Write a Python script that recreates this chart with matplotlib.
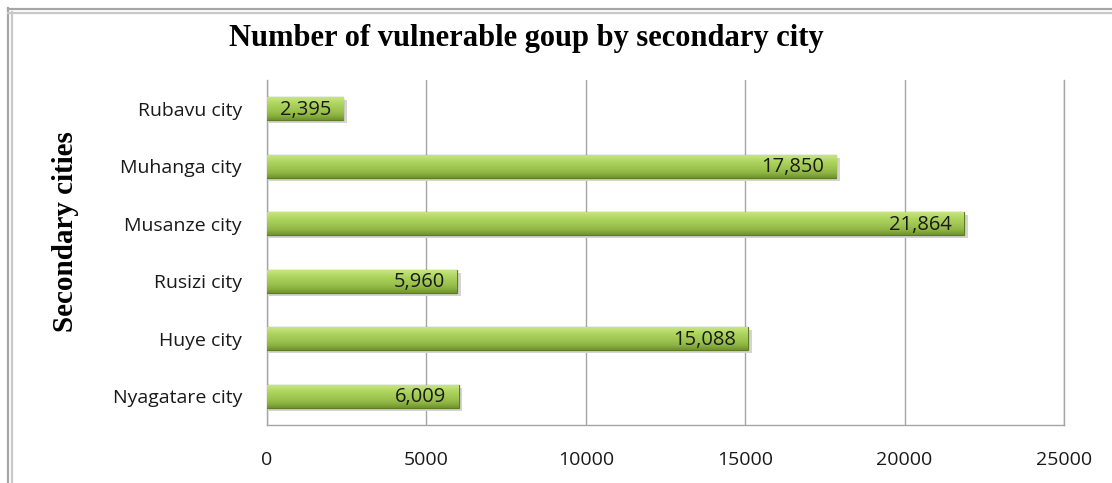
import matplotlib
matplotlib.use("Agg")
import matplotlib.pyplot as plt
from matplotlib.colors import LinearSegmentedColormap
from matplotlib.lines import Line2D
import numpy as np

# data, bottom to top as drawn
cities = ['Nyagatare city', 'Huye city', 'Rusizi city', 'Musanze city', 'Muhanga city', 'Rubavu city']
counts = [6009, 15088, 5960, 21864, 17850, 2395]
xticks = [0, 5000, 10000, 15000, 20000, 25000]

fig = plt.figure(figsize=(11.12, 4.83), dpi=100)
ax = fig.add_axes([0.2401, 0.1201, 0.7167, 0.7143])

# outer frame (double grey line, left and top)
for off, c in [(0.0072, '#a6a6a6'), (0.0108, '#c8c8c8')]:
    fig.add_artist(Line2D([off, off], [0, 1 - off * 2.3], transform=fig.transFigure, color=c, lw=1.6))
for off, c in [(0.019, '#a6a6a6'), (0.026, '#c8c8c8')]:
    fig.add_artist(Line2D([0.0072, 1], [1 - off, 1 - off], transform=fig.transFigure, color=c, lw=1.6))

# bottom -> top of each bar
green = LinearSegmentedColormap.from_list('g', ['#6f922c', '#8db443', '#9dc44f', '#a8cf5a', '#b8dc6c', '#cbe88a'])
grad = np.linspace(0, 1, 64).reshape(-1, 1)

h = 0.4
ypos = np.arange(len(cities))
bars = ax.barh(ypos, counts, height=h, color='#9cc24a', edgecolor='#5e7d22', lw=0.9, zorder=3)
for b, v, y in zip(bars, counts, ypos):
    # soft shadow under the bar
    ax.barh(y - 0.05, v + 60, height=h, left=60, color='#d4d4d4', lw=0, zorder=2)
    im = ax.imshow(grad, cmap=green, aspect='auto', extent=[0, v, y - h / 2, y + h / 2],
                   origin='lower', zorder=3.5, interpolation='bicubic')
    im.set_clip_path(b)
    ax.text(v - 380, y - 0.02, f'{v:,}', ha='right', va='center', fontsize=14.5,
            family='Open Sans', color='#1a1a1a', zorder=5)

ax.set_xlim(0, 25000)
ax.set_ylim(-0.5, len(cities) - 0.5)
ax.set_xticks(xticks)
ax.set_xticklabels([str(t) for t in xticks], fontsize=14, family='Open Sans', color='#1a1a1a')
ax.set_yticks(ypos)
ax.set_yticklabels(cities, fontsize=14, family='Open Sans', color='#1a1a1a')
ax.tick_params(axis='x', length=0, pad=19)
ax.tick_params(axis='y', length=0, pad=18)
ax.grid(axis='x', color='#a6a6a6', lw=1, zorder=0)
ax.spines['top'].set_visible(False)
for s in ['left', 'bottom', 'right']:
    ax.spines[s].set_color('#a6a6a6')
    ax.spines[s].set_linewidth(1)

fig.text(0.473, 0.921, 'Number of vulnerable goup by secondary city', ha='center', va='center',
         fontsize=22, fontweight='bold', family='Liberation Serif')
fig.text(0.059, 0.52, 'Secondary cities', ha='center', va='center', rotation=90,
         fontsize=21, fontweight='bold', family='Liberation Serif')

fig.savefig('out.png', dpi=100)
